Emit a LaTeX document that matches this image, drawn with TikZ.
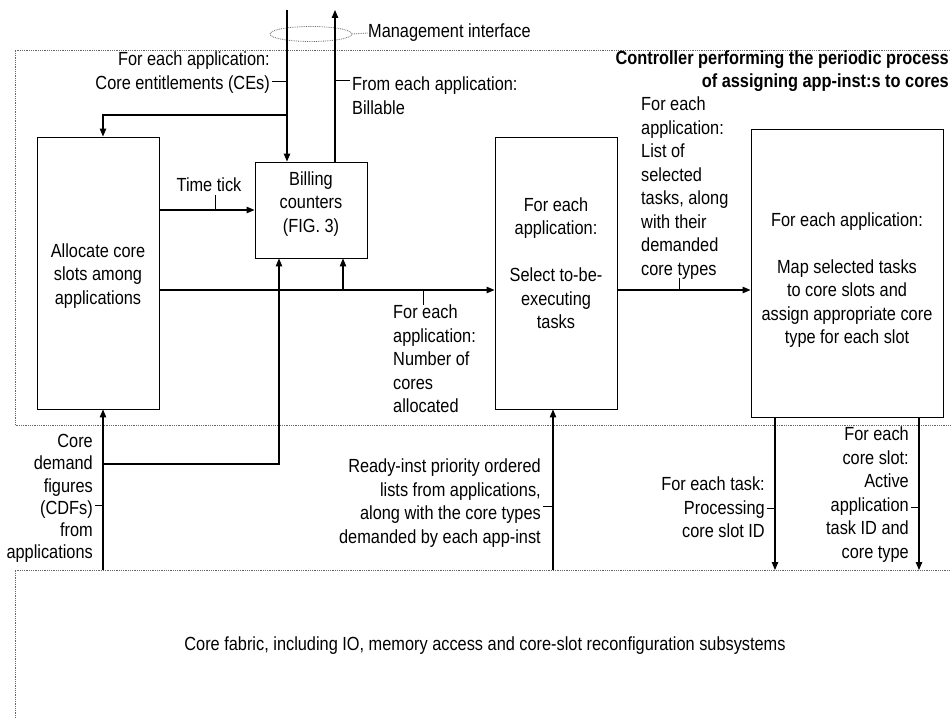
\documentclass[tikz,border=0pt]{standalone}
\usepackage{fontspec}
\setmainfont[FakeStretch=0.86]{Liberation Sans}
\usetikzlibrary{arrows.meta,shapes.geometric}
\begin{document}
\begin{tikzpicture}[x=1pt,y=-1pt,
  txt/.style={font=\fontsize{19}{23.5}\selectfont, inner sep=0pt},
  ttl/.style={font=\fontsize{19}{23.5}\selectfont\bfseries, inner sep=0pt},
  box/.style={draw, line width=0.9pt, inner sep=0pt},
  conn/.style={line width=1.05pt},
  arr/.style={conn, -{Triangle[length=8pt,width=6.5pt]}},
  leader/.style={line width=0.8pt},
  frame/.style={densely dotted, line width=0.8pt, black!60}]
\useasboundingbox (0,0) rectangle (951,719);

% frames
\draw[frame] (975,50) -- (15,50) -- (15,425) -- (975,425);
\draw[frame] (975,570) -- (15,570) -- (15,740);

% boxes
\node[box, minimum width=122, minimum height=272] (alloc) at (98,273) {};
\node[box, minimum width=112, minimum height=96] (bill) at (311,210) {};
\node[box, minimum width=122, minimum height=272] (sel) at (556,273) {};
\node[box, minimum width=192, minimum height=288] (map) at (847,273) {};

% box texts
\node[txt, align=center] (alloct) at (98,276) {Allocate core\\slots among\\applications};
\node[txt, align=center] (billt) at (311,204) {Billing\\counters\\(FIG. 3)};
\node[txt, align=center] (selt) at (556,263) {For each\\application:\\[23.5pt]Select to-be-\\executing\\tasks};
\node[txt, align=center] (mapt) at (847,280) {For each application:\\[23.5pt]Map selected tasks\\to core slots and\\assign appropriate core\\type for each slot};

% management interface
\node[draw, ellipse, densely dotted, black!60, line width=0.8pt, minimum width=82, minimum height=15, inner sep=0pt] (mgmt) at (311,34) {};
\node[txt, anchor=west] (mgmtt) at (368,33) {Management interface};
\draw[frame] (mgmt.east) -- (mgmtt.west);

% coordinates
\coordinate (mdown) at (287,10);
\coordinate (mup) at (335,10);
\coordinate (cebr) at (287,115);
\coordinate (cdfx) at (103,0);
\coordinate (mainy) at (0,290);
\coordinate (bbr) at (343,290);
\coordinate (cdfbot) at (103,570);
\coordinate (cdfbr) at (103,464);
\coordinate (bin) at (279,300);
\coordinate (rdy) at (553,570);
\coordinate (md1) at (775,570);
\coordinate (md2) at (919,570);

% connectors
\draw[arr] (mdown) -- (mdown |- bill.north);
\draw[arr] (mup |- bill.north) -- (mup);
\draw[arr] (cebr) -| (cdfx |- alloc.north);
\draw[arr] (alloc.east |- bill.west) -- (bill.west);
\draw[arr] (alloc.east |- mainy) -- (sel.west |- mainy);
\draw[arr] (bbr) -- (bbr |- bill.south);
\draw[arr] (cdfbot) -- (cdfbot |- alloc.south);
\draw[arr] (cdfbr) -| (bin |- bill.south);
\draw[arr] (rdy) -- (rdy |- sel.south);
\draw[arr] (sel.east |- mainy) -- (map.west |- mainy);
\draw[arr] (md1 |- map.south) -- (md1);
\draw[arr] (md2 |- map.south) -- (md2);

% labels
\node[txt, align=right, anchor=north east] (celab) at (270,52) {For each application:\\Core entitlements (CEs)};
\draw[leader] (272,81) -- (287,81);
\node[txt, align=left, anchor=north west] (billab) at (352,77) {From each application:\\Billable};
\draw[leader] (335,80) -- (350,80);
\node[ttl, align=right, anchor=north east] (title) at (949,50.5) {Controller performing the periodic process\\of assigning app-inst:s to cores};
\node[txt] (ticklab) at (209,185) {Time tick};
\draw[leader] (215,195) -- (215,210);
\node[txt, align=left, anchor=north west] (numlab) at (393,305) {For each\\application:\\Number of\\cores\\allocated};
\draw[leader] (423,290) -- (423,305);
\node[txt, align=left, anchor=north west] (listlab) at (641,97) {For each\\application:\\List of\\selected\\tasks, along\\with their\\demanded\\core types};
\draw[leader] (679,278) -- (679,290);
\node[txt, font=\fontsize{19}{22.3}\selectfont, align=right, anchor=north east] (cdflab) at (93,434) {Core\\demand\\figures\\(CDFs)\\from\\applications};
\draw[leader] (95,505) -- (103,505);
\node[txt, align=right, anchor=north east] (rdylab) at (541,459) {Ready-inst priority ordered\\lists from applications,\\along with the core types\\demanded by each app-inst};
\draw[leader] (543,506) -- (553,506);
\node[txt, align=right, anchor=north east] (tasklab) at (765,477) {For each task:\\Processing\\core slot ID};
\draw[leader] (767,508) -- (775,508);
\node[txt, align=right, anchor=north east] (slotlab) at (909,427) {For each\\core slot:\\Active\\application\\task ID and\\core type};
\draw[leader] (911,507) -- (919,507);

\node[txt] (fabric) at (485,646) {Core fabric, including IO, memory access and core-slot reconfiguration subsystems};
\end{tikzpicture}
\end{document}
